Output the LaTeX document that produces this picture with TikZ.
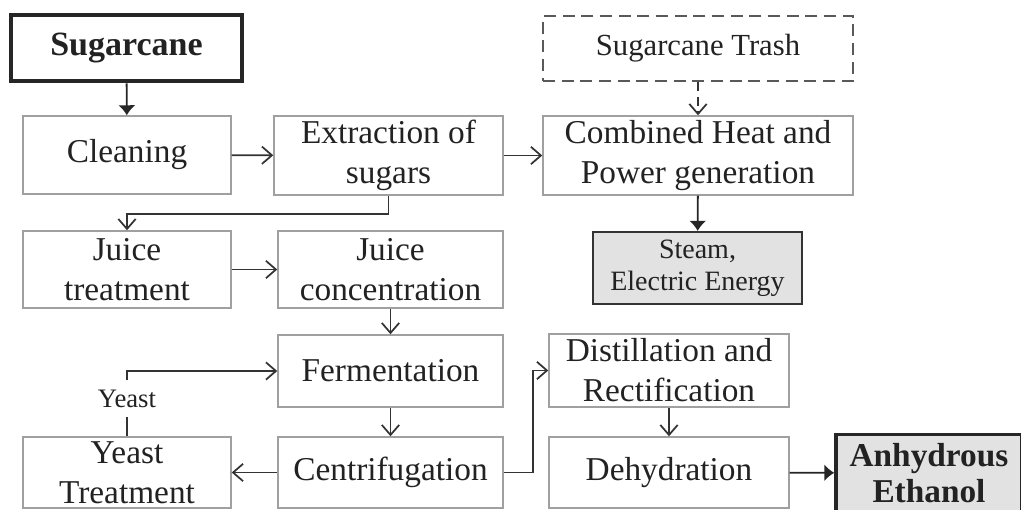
\documentclass[tikz,border=0pt]{standalone}
\usepackage{fontspec}
\setmainfont{Liberation Serif}
\usetikzlibrary{arrows.meta}
\definecolor{boxline}{HTML}{A0A0A0}
\definecolor{ink}{HTML}{222222}
\definecolor{wire}{HTML}{333333}
\definecolor{product}{HTML}{E2E2E2}
\begin{document}
\begin{tikzpicture}[x=0.75pt,y=-0.75pt,
  every node/.style={inner sep=0pt,align=center,text=ink},
  w/.style={minimum width=0.75pt*#1},
  h/.style={minimum height=0.75pt*#1},
  stepbox/.style={draw=boxline,line width=1.1pt,
    font=\fontsize{25}{30}\selectfont},
  sourcebox/.style={draw=black!85,line width=3.4pt,
    font=\fontsize{25.5}{30}\selectfont\bfseries},
  trashbox/.style={draw=black!65,dashed,dash pattern=on 9pt off 5pt,line width=1.4pt,
    font=\fontsize{23}{28}\selectfont},
  outbox/.style={draw=black!80,fill=product,line width=1.7pt,
    font=\fontsize{21}{24}\selectfont},
  endbox/.style={draw=black!85,fill=product,line width=2.6pt,
    font=\fontsize{25}{27}\selectfont\bfseries},
  flow/.style={draw=wire,line width=1.3pt,-{Straight Barb[length=7.5pt,width=13pt,line width=1.3pt]}},
  solidflow/.style={draw=black!85,line width=1.4pt,-{Latex[length=7.5pt,width=13pt]}},
  trashflow/.style={flow,dashed,dash pattern=on 7pt off 4pt}
]
\useasboundingbox (0,0) rectangle (1021,510);

% raw material and side stream
\node[sourcebox, w=231, h=66] (sug) at (126.5,48) {Sugarcane};
\node[trashbox, w=310, h=65] (trash) at (698,48.5) {Sugarcane Trash};

% first row
\node[stepbox, w=208, h=78] (clean) at (127,155) {Cleaning};
\node[stepbox, w=229, h=79] (ext) at (388.5,155.5) {Extraction of\\sugars};
\node[stepbox, w=310, h=79] (chp) at (698,155.5) {Combined Heat and\\Power generation};
\node[outbox, w=209, h=72] (steam) at (697.5,268) {Steam,\\Electric Energy};

% juice line
\node[stepbox, w=208, h=77] (jt) at (127,269.5) {Juice\\treatment};
\node[stepbox, w=225, h=77] (jc) at (390.5,269.5) {Juice\\concentration};
\node[stepbox, w=225, h=72] (ferm) at (390.5,371) {Fermentation};
\node[stepbox, w=225, h=71] (cent) at (390.5,472.5) {Centrifugation};
\node[stepbox, w=208, h=71] (yt) at (127,472.5) {Yeast\\Treatment};
\node[font=\fontsize{20}{22}\selectfont, h=37] (yeast) at (127,398.5) {Yeast};

% ethanol line
\node[stepbox, w=240, h=73] (dist) at (669,370.5) {Distillation and\\Rectification};
\node[stepbox, w=240, h=71] (deh) at (669,472.5) {Dehydration};
\node[endbox, w=186, h=77] (anh) at (929,473) {Anhydrous\\Ethanol};

% connectors
\draw[solidflow] (sug) -- (clean);
\draw[flow] (clean) -- (ext);
\draw[flow] (ext) -- (chp);
\draw[trashflow] (trash) -- (chp);
\draw[solidflow] (chp) -- (steam);
\draw[flow] (ext.south) -- ++(0,18) -| (jt.north);
\draw[flow] (jt) -- (jc);
\draw[flow] (jc) -- (ferm);
\draw[flow] (ferm) -- (cent);
\draw[flow] (cent) -- (yt);
\draw[draw=wire,line width=1.3pt] (yt.north) -- (yeast.south);
\draw[flow] (yeast.north) |- (ferm.west);
\draw[flow] (cent.east) -- ++(29,0) |- (dist.west);
\draw[flow] (dist) -- (deh);
\draw[solidflow] (deh) -- (anh);
\end{tikzpicture}
\end{document}
